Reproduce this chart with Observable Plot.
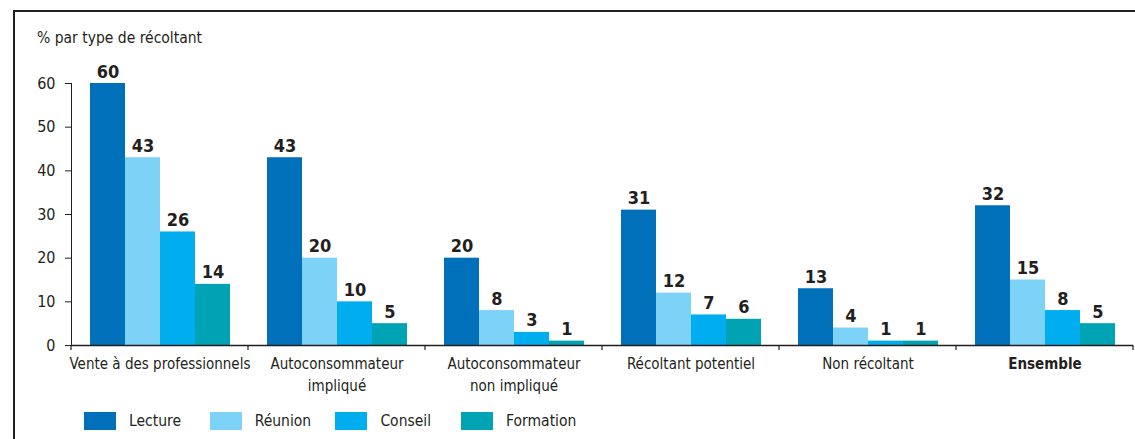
<!DOCTYPE html>
<html>
<head>
<meta charset="utf-8">
<script src="https://cdn.jsdelivr.net/npm/d3@7"></script>
<script src="https://cdn.jsdelivr.net/npm/@observablehq/plot@0.6"></script>
<style>
  html, body { margin: 0; padding: 0; background: #fff; }
  body { width: 1135px; height: 439px; position: relative; overflow: hidden;
         font-family: "Liberation Sans Narrow", "DejaVu Sans Condensed", "Roboto Condensed", "Liberation Sans", sans-serif; color: #231f20; }
  #frame { position: absolute; left: 13px; top: 10px; width: 1130px; height: 440px;
           border-left: 2px solid #231f20; border-top: 2px solid #231f20; }
  #title { position: absolute; left: 37px; top: 29px; font-size: 15.5px; }
  #chart { position: absolute; left: 0; top: 0; }
  #legend { position: absolute; left: 84px; top: 412px; display: flex; }
  .item { display: flex; align-items: center; width: 125.7px; font-size: 15.5px; }
  .sw { width: 32px; height: 18px; margin-right: 13px; }
</style>
</head>
<body>
<div id="frame"></div>
<div id="chart"></div>
<div id="title">% par type de récoltant</div>
<div id="legend"></div>
<script>
const categories = ["Vente à des professionnels", "Autoconsommateur\nimpliqué", "Autoconsommateur\nnon impliqué", "Récoltant potentiel", "Non récoltant", "Ensemble"];
const series = ["Lecture", "Réunion", "Conseil", "Formation"];
const lecture   = [60, 43, 20, 31, 13, 32];
const reunion   = [43, 20, 8, 12, 4, 15];
const conseil   = [26, 10, 3, 7, 1, 8];
const formation = [14, 5, 1, 6, 1, 5];
const colors = ["#0070ba", "#7dd3f7", "#00aeef", "#00a3b4"];
const yTicks = [0, 10, 20, 30, 40, 50, 60];

const seriesValues = [lecture, reunion, conseil, formation];
const data = [];
categories.forEach((c, i) => series.forEach((s, j) => data.push({cat: c, series: s, value: seriesValues[j][i]})));

const font = '"Liberation Sans Narrow", "DejaVu Sans Condensed", "Roboto Condensed", "Liberation Sans", sans-serif';

const chart = Plot.plot({
  width: 1135, height: 400,
  marginLeft: 70, marginRight: 2, marginTop: 83, marginBottom: 55,
  style: {fontFamily: font, fontSize: "16px", color: "#231f20", background: "transparent"},
  fx: {domain: categories, padding: 0, label: null},
  x: {domain: series, paddingInner: 0, paddingOuter: 0.5, axis: null},
  y: {domain: [0, 60], ticks: yTicks, tickSize: 6, tickPadding: 10, line: true, label: null},
  color: {domain: series, range: colors},
  marks: [
    Plot.barY(data, {fx: "cat", x: "series", y: "value", fill: "series"}),
    Plot.text(data, {fx: "cat", x: "series", y: "value", text: d => String(d.value), lineAnchor: "bottom", dy: -6, fontWeight: "bold", fontSize: 18, fill: "#231f20"}),
    Plot.ruleY([0], {stroke: "#231f20", strokeWidth: 1.5}),
    Plot.axisFx({anchor: "bottom", ticks: categories.slice(0, 5), tickSize: 0, tickPadding: 8, lineHeight: 1.45, label: null, fontSize: 15}),
    Plot.axisFx({anchor: "bottom", ticks: categories.slice(5), tickSize: 0, tickPadding: 8, lineHeight: 1.45, label: null, fontSize: 15, fontWeight: "bold"})
  ]
});
document.getElementById("chart").appendChild(chart);

// boundary ticks below the baseline at the edges of each category band
const fx = chart.scale("fx"), y = chart.scale("y");
const y0 = y.apply(0);
const edges = categories.map(c => fx.apply(c)).concat([fx.apply(categories[categories.length - 1]) + fx.bandwidth]);
const svg = d3.select(chart.tagName.toLowerCase() === "svg" ? chart : chart.querySelector("svg"));
svg.append("g").selectAll("line").data(edges).join("line")
  .attr("x1", d => d).attr("x2", d => d).attr("y1", y0).attr("y2", y0 + 5)
  .attr("stroke", "#231f20").attr("stroke-width", 1.2);

const legend = d3.select("#legend");
series.forEach((s, j) => {
  const it = legend.append("div").attr("class", "item");
  it.append("div").attr("class", "sw").style("background", colors[j]);
  it.append("span").text(s);
});
</script>
</body>
</html>
